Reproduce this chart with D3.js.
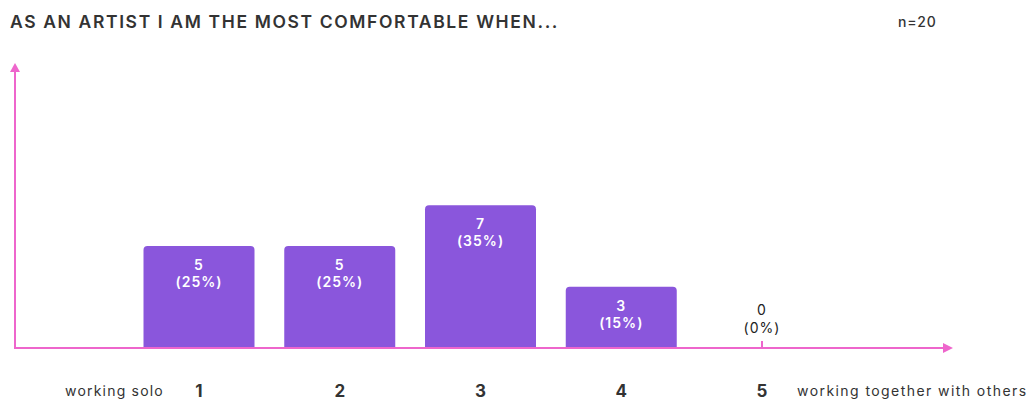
<!DOCTYPE html>
<html><head><meta charset="utf-8">
<script src="https://cdn.jsdelivr.net/npm/d3@7"></script>
<style>body{margin:0;background:#fff}svg{display:block;font-family:Inter,sans-serif}</style>
</head><body><svg id="c" width="1031" height="403"></svg>
<script>
const categories = ["1","2","3","4","5"];
const counts = [5,5,7,3,0];
const percents = ["25%","25%","35%","15%","0%"];
const leftLabel = "working solo";
const rightLabel = "working together with others";
const title = "AS AN ARTIST I AM THE MOST COMFORTABLE WHEN...";
const nLabel = "n=20";

const svg = d3.select("#c");
const axisColor = "#ee66cc", barColor = "#8a56dc";
const x = d3.scalePoint().domain(categories).range([199, 762]);
const y = d3.scaleLinear().domain([0, 14]).range([348, 62.4]);
const bw = 111, r = 4;

svg.append("text").attr("x",10).attr("y",28).attr("font-size",17.5).attr("font-weight",600)
  .attr("fill","#333").attr("letter-spacing","1.63").text(title);
svg.append("text").attr("x",898).attr("y",27).attr("font-size",14).attr("font-weight",500)
  .attr("fill","#333").attr("letter-spacing","0.8").text(nLabel);

function barPath(cx, v){
  const x0 = cx - bw/2, x1 = cx + bw/2, y0 = y(0), y1 = y(v);
  return `M${x0},${y0}V${y1+r}Q${x0},${y1} ${x0+r},${y1}H${x1-r}Q${x1},${y1} ${x1},${y1+r}V${y0}Z`;
}
const data = categories.map((c,i)=>({c, v:counts[i], p:percents[i]}));
svg.selectAll("path.bar").data(data.filter(d=>d.v>0)).enter().append("path")
  .attr("class","bar").attr("d",d=>barPath(x(d.c), d.v)).attr("fill",barColor);

data.forEach(d=>{
  const inside = d.v>0;
  const top = inside ? y(d.v)+24 : y(0)-33;
  const g = svg.append("text").attr("text-anchor","middle").attr("font-size",14)
    .attr("font-weight", inside?600:400).attr("fill", inside?"#fff":"#222").attr("letter-spacing","1");
  g.append("tspan").attr("x",x(d.c)).attr("y",top).text(d.v);
  g.append("tspan").attr("x",x(d.c)).attr("y",top+(inside?17:18)).text("("+d.p+")");
  if(!inside){
    svg.append("line").attr("x1",x(d.c)).attr("x2",x(d.c)).attr("y1",y(0)-7).attr("y2",y(0))
      .attr("stroke",axisColor).attr("stroke-width",2);
  }
});

svg.append("line").attr("x1",15).attr("x2",15).attr("y1",y(0)).attr("y2",72)
  .attr("stroke",axisColor).attr("stroke-width",2);
svg.append("path").attr("d","M15,63L10,72H20Z").attr("fill",axisColor);
svg.append("line").attr("x1",14).attr("x2",944).attr("y1",y(0)).attr("y2",y(0))
  .attr("stroke",axisColor).attr("stroke-width",2);
svg.append("path").attr("d",`M953,${y(0)}L943,${y(0)-5}V${y(0)+5}Z`).attr("fill",axisColor);

svg.selectAll("text.cat").data(categories).enter().append("text").attr("class","cat")
  .attr("x",d=>x(d)).attr("y",397).attr("text-anchor","middle").attr("font-size",17)
  .attr("font-weight",700).attr("fill","#333").text(d=>d);
svg.append("text").attr("x",65).attr("y",396).attr("font-size",14).attr("fill","#333").attr("letter-spacing","1.2").text(leftLabel);
svg.append("text").attr("x",797).attr("y",396).attr("font-size",14).attr("fill","#333").attr("letter-spacing","1.43").text(rightLabel);
</script></body></html>
